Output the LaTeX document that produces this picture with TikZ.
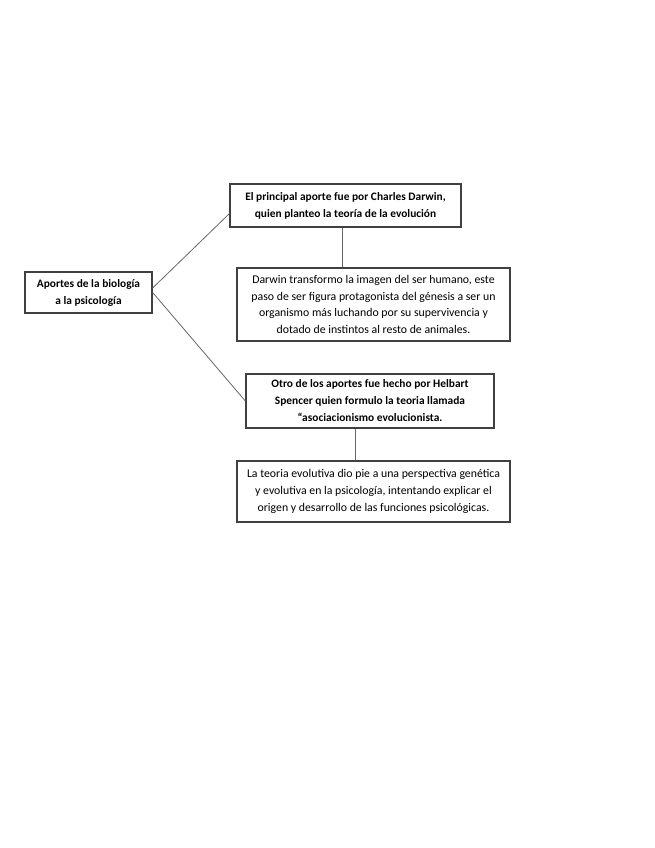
\documentclass[tikz,border=0pt]{standalone}
\usepackage{fontspec}
\setmainfont{Carlito}
\usepackage{tikz}
\usetikzlibrary{positioning,calc}

\begin{document}
\begin{tikzpicture}[
    x=1pt, y=-1pt,
    box/.style={
        rectangle, draw=black!75, line width=1.3pt,
        inner sep=0pt, align=center,
        font=\fontsize{11.8}{16.6}\selectfont
    },
    boldbox/.style={box, font=\fontsize{11.4}{17}\selectfont\bfseries},
    conn/.style={line width=0.8pt, color=black!60}
]
    \useasboundingbox (0,0) rectangle (655,848);

    % Nodes
    \node[boldbox, minimum width=127, minimum height=41] (root) at (88.5,292.5)
        {Aportes de la biología\\a la psicología};

    \node[boldbox, minimum width=231, minimum height=43] (darwin) at (345.5,205.5)
        {El principal aporte fue por Charles Darwin,\\quien planteo la teoría de la evolución};

    \node[box, minimum width=273, minimum height=73] (imagen) at (373.5,304.5)
        {Darwin transformo la imagen del ser humano, este\\paso de ser figura protagonista del génesis a ser un\\organismo más luchando por su supervivencia y\\dotado de instintos al resto de animales.};

    \node[boldbox, minimum width=248, minimum height=54] (spencer) at (370,401)
        {Otro de los aportes fue hecho por Helbart\\Spencer quien formulo la teoria llamada\\“asociacionismo evolucionista.};

    \node[box, minimum width=273, minimum height=61] (teoria) at (373.5,491.5)
        {La teoria evolutiva dio pie a una perspectiva genética\\y evolutiva en la psicología, intentando explicar el\\origen y desarrollo de las funciones psicológicas.};

    % Connections
    \draw[conn] (root.4) -- (darwin.184);
    \draw[conn] (root.east) -- (spencer.west);
    \draw[conn] ([xshift=-3.5]darwin.south) -- ([xshift=-3.5]darwin.south |- imagen.north);
    \draw[conn] ([xshift=-15]spencer.south) -- ([xshift=-15]spencer.south |- teoria.north);

\end{tikzpicture}
\end{document}
